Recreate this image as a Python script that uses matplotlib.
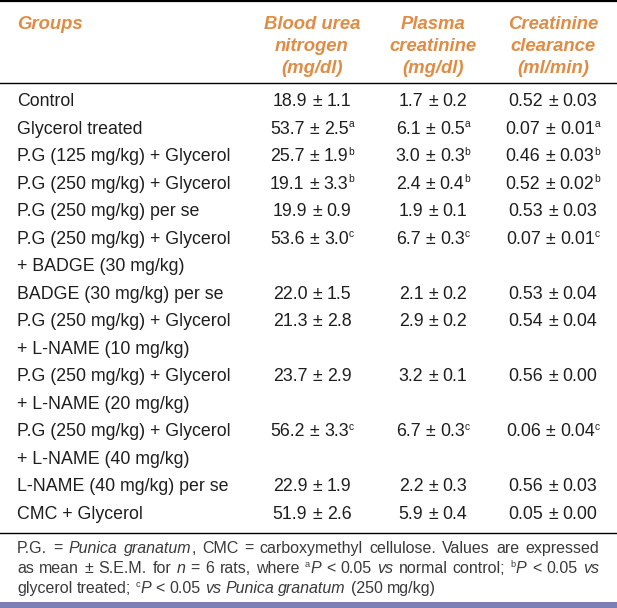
import matplotlib
matplotlib.use("Agg")
import matplotlib.pyplot as plt

# table content
headers = ["Blood urea\nnitrogen\n(mg/dl)", "Plasma\ncreatinine\n(mg/dl)",
           "Creatinine\nclearance\n(ml/min)"]
groups = [
    "Control",
    "Glycerol treated",
    "P.G (125 mg/kg) + Glycerol",
    "P.G (250 mg/kg) + Glycerol",
    "P.G (250 mg/kg) per se",
    "P.G (250 mg/kg) + Glycerol\n+ BADGE (30 mg/kg)",
    "BADGE (30 mg/kg) per se",
    "P.G (250 mg/kg) + Glycerol\n+ L-NAME (10 mg/kg)",
    "P.G (250 mg/kg) + Glycerol\n+ L-NAME (20 mg/kg)",
    "P.G (250 mg/kg) + Glycerol\n+ L-NAME (40 mg/kg)",
    "L-NAME (40 mg/kg) per se",
    "CMC + Glycerol",
]
bun = ["18.9 ± 1.1", "53.7 ± 2.5", "25.7 ± 1.9", "19.1 ± 3.3", "19.9 ± 0.9", "53.6 ± 3.0",
       "22.0 ± 1.5", "21.3 ± 2.8", "23.7 ± 2.9", "56.2 ± 3.3", "22.9 ± 1.9", "51.9 ± 2.6"]
creat = ["1.7 ± 0.2", "6.1 ± 0.5", "3.0 ± 0.3", "2.4 ± 0.4", "1.9 ± 0.1", "6.7 ± 0.3",
         "2.1 ± 0.2", "2.9 ± 0.2", "3.2 ± 0.1", "6.7 ± 0.3", "2.2 ± 0.3", "5.9 ± 0.4"]
clear = ["0.52 ± 0.03", "0.07 ± 0.01", "0.46 ± 0.03", "0.52 ± 0.02", "0.53 ± 0.03", "0.07 ± 0.01",
         "0.53 ± 0.04", "0.54 ± 0.04", "0.56 ± 0.00", "0.06 ± 0.04", "0.56 ± 0.03", "0.05 ± 0.00"]
sig = ["", "a", "b", "b", "", "c", "", "", "", "c", "", ""]

footnote = [
    [("P.G. = ", "n"), ("Punica granatum", "i"),
     (", CMC = carboxymethyl cellulose. Values are expressed", "n")],
    [("as mean ± S.E.M. for ", "n"), ("n", "i"), (" = 6 rats, where ", "n"), ("a", "s"),
     ("P", "i"), (" < 0.05 ", "n"), ("vs", "i"), (" normal control; ", "n"), ("b", "s"),
     ("P", "i"), (" < 0.05 ", "n"), ("vs", "i")],
    [("glycerol treated; ", "n"), ("c", "s"), ("P", "i"), (" < 0.05 ", "n"), ("vs", "i"),
     (" ", "n"), ("Punica granatum", "i"), (" (250 mg/kg)", "n")],
]

plt.rcParams['font.family'] = ['Liberation Sans', 'DejaVu Sans']
ORANGE = "#e08c45"
TEXT = "#1e1e1e"
NOTE = "#3a3a3a"

W, H = 617, 608
fig = plt.figure(figsize=(W / 100, H / 100), dpi=100)
ax = fig.add_axes([0, 0, 1, 1])
ax.set_xlim(0, W)
ax.set_ylim(H, 0)
ax.axis("off")
renderer = fig.canvas.get_renderer()


def style_kw(style, size):
    if style == "i":
        return dict(fontsize=size, fontstyle="italic")
    if style == "s":
        return dict(fontsize=size * 0.58)
    return dict(fontsize=size)


def width_of(text, style, size):
    t = ax.text(0, 0, text, **style_kw(style, size))
    w = t.get_window_extent(renderer).width
    t.remove()
    return w


def draw_runs(x, y, runs, size, color, justify=None, ha="left"):
    # split runs into words, each word is a list of styled pieces
    words = [[]]
    for text, style in runs:
        parts = text.split(" ")
        for i, p in enumerate(parts):
            if i > 0:
                words.append([])
            if p:
                words[-1].append((p, style))
    words = [w for w in words if w]
    widths = [[width_of(p, s, size) for p, s in w] for w in words]
    total = sum(sum(w) for w in widths)
    space = width_of("a a", "n", size) - width_of("aa", "n", size)
    if justify and len(words) > 1:
        gap = (justify - total) / (len(words) - 1)
    else:
        gap = space
    full = total + gap * (len(words) - 1)
    cx = x - full / 2 if ha == "center" else x
    for w, ws in zip(words, widths):
        for (p, s), pw in zip(w, ws):
            dy = -size * 0.5 if s == "s" else 0
            ax.text(cx, y + dy, p, color=color, va="baseline", ha="left",
                    **style_kw(s, size))
            cx += pw
        cx += gap


# rules
ax.plot([0, W], [1, 1], color="black", lw=1.6)
ax.plot([0, W], [83, 83], color="black", lw=1.0)
ax.plot([0, W], [533, 533], color="black", lw=1.0)
ax.add_patch(plt.Rectangle((0, 602), W, 7, color="#7b7fb2", lw=0))

# header
hsize = 13.3
ax.text(17, 29, "Groups", color=ORANGE, fontsize=hsize, fontweight="bold",
        fontstyle="italic", va="baseline")
cols = [312, 433, 553]
for cx, h in zip(cols, headers):
    for k, line in enumerate(h.split("\n")):
        ax.text(cx, 29 + k * 22, line, color=ORANGE, fontsize=hsize, fontweight="bold",
                fontstyle="italic", va="baseline", ha="center")

# body
bsize = 12.8
pitch = 27.53
line = 0
for g, v1, v2, v3, s in zip(groups, bun, creat, clear, sig):
    base = 106 + line * pitch
    for k, gl in enumerate(g.split("\n")):
        ax.text(17, base + k * pitch, gl, color=TEXT, fontsize=bsize, va="baseline")
    for cx, v in zip(cols, [v1, v2, v3]):
        runs = [(v, "n")]
        if s:
            runs.append((s, "s"))
        draw_runs(cx, base, runs, bsize, TEXT, ha="center")
    line += len(g.split("\n"))

# footnote
fsize = 11.5
for k, runs in enumerate(footnote):
    draw_runs(17, 553 + k * 20, runs, fsize, NOTE, justify=582 if k < 2 else None)

fig.savefig("out.png", dpi=100)
